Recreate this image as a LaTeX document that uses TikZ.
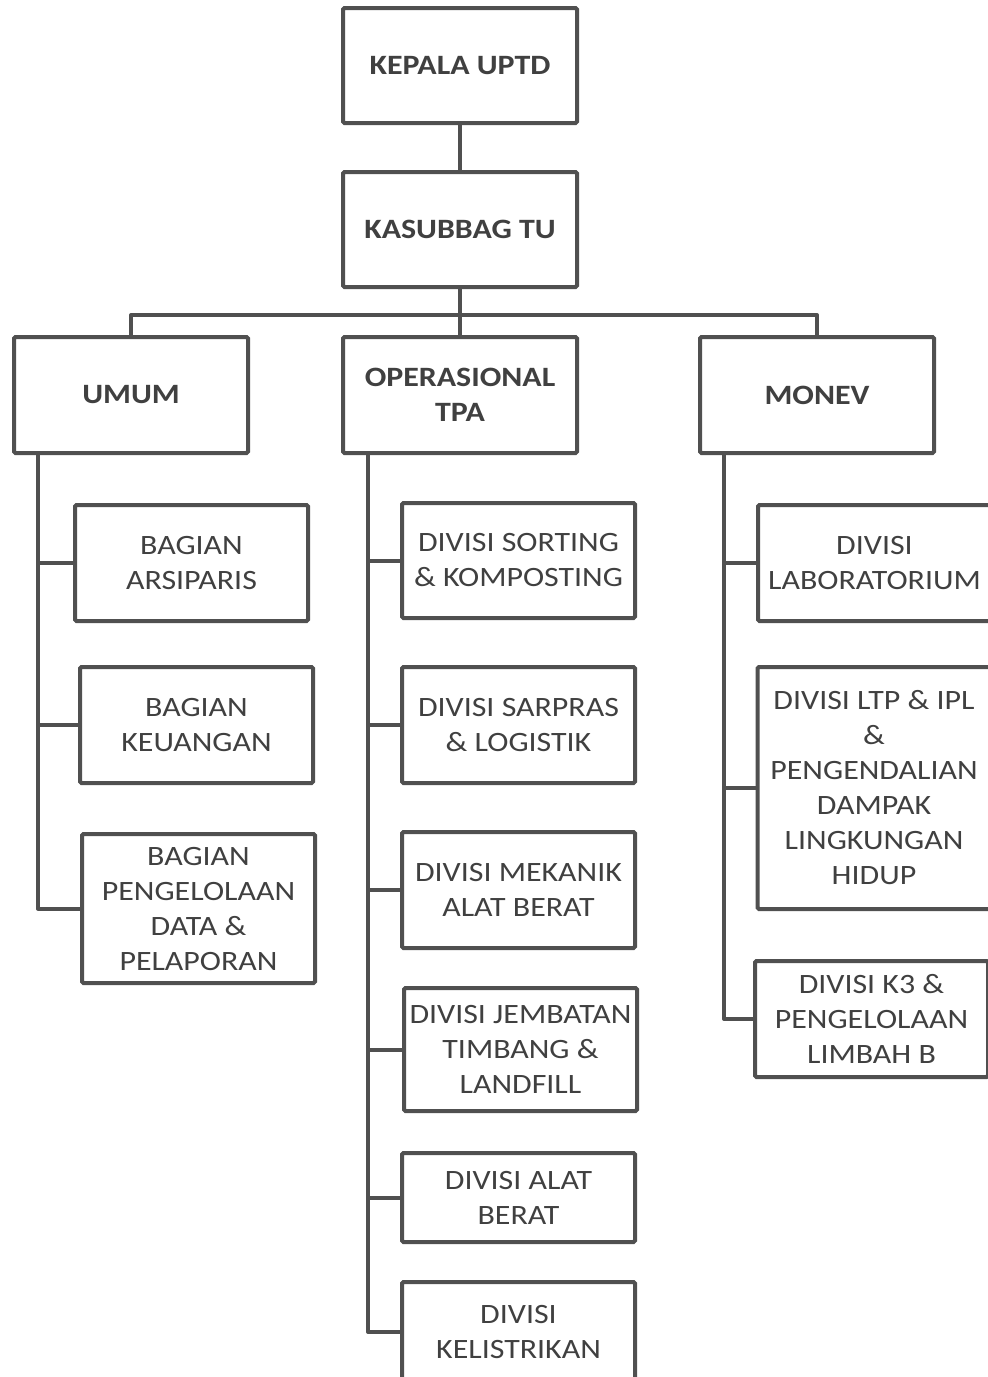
\documentclass[tikz,border=0pt]{standalone}
\usepackage{fontspec}
\setmainfont{Carlito}[FakeStretch=1.14]
\definecolor{linec}{HTML}{505050}
\definecolor{textc}{HTML}{404040}
\begin{document}
\begin{tikzpicture}[x=1pt,y=-1pt,
  box/.style={draw=linec, line width=4pt, rounded corners=1.5pt, fill=white, text=textc,
    align=center, inner sep=0pt, font=\fontsize{28}{35}\selectfont},
  headbox/.style={box, font=\fontsize{28}{35}\selectfont\bfseries},
  conn/.style={draw=linec, line width=4pt, line join=round}]
\useasboundingbox (0,0) rectangle (988,1377);
\clip (0,0) rectangle (988,1377);
% level 1-2
\node[headbox, minimum width=234, minimum height=115] (kepala) at (460,65.5) {KEPALA UPTD};
\node[headbox, minimum width=234, minimum height=115] (kasubbag) at (460,229.5) {KASUBBAG TU};
% level 3
\node[headbox, minimum width=234, minimum height=116] (umum) at (131,395) {UMUM};
\node[headbox, minimum width=234, minimum height=116] (op) at (460,395) {OPERASIONAL\\TPA};
\node[headbox, minimum width=234, minimum height=116] (monev) at (817,395) {MONEV};
% UMUM children
\node[box, minimum width=233, minimum height=116] (arsiparis) at (191.5,563) {BAGIAN\\ARSIPARIS};
\node[box, minimum width=233, minimum height=116] (keuangan) at (196.5,725) {BAGIAN\\KEUANGAN};
\node[box, minimum width=233, minimum height=149] (data) at (198.5,908.5) {BAGIAN\\PENGELOLAAN\\DATA \&\\PELAPORAN};
% OPERASIONAL children
\node[box, minimum width=233, minimum height=115] (sorting) at (518.5,560.5) {DIVISI SORTING\\\& KOMPOSTING};
\node[box, minimum width=233, minimum height=116] (sarpras) at (518.5,725) {DIVISI SARPRAS\\\& LOGISTIK};
\node[box, minimum width=233, minimum height=116] (mekanik) at (518.5,890) {DIVISI MEKANIK\\ALAT BERAT};
\node[box, minimum width=233, minimum height=123] (jembatan) at (520.5,1049.5) {DIVISI JEMBATAN\\TIMBANG \&\\LANDFILL};
\node[box, minimum width=233, minimum height=89] (alatberat) at (518.5,1197.5) {DIVISI ALAT\\BERAT};
\node[box, minimum width=233, minimum height=100] (kelistrikan) at (518.5,1332) {DIVISI\\KELISTRIKAN};
% MONEV children
\node[box, minimum width=233, minimum height=116] (lab) at (874.5,563) {DIVISI\\LABORATORIUM};
\node[box, minimum width=233, minimum height=242] (ltp) at (874,788) {DIVISI LTP \& IPL\\\&\\PENGENDALIAN\\DAMPAK\\LINGKUNGAN\\HIDUP};
\node[box, minimum width=233, minimum height=116] (k3) at (871.5,1019) {DIVISI K3 \&\\PENGELOLAAN\\LIMBAH B};
% connectors
\coordinate (bus) at (460,315);
\coordinate (uspine) at (38,453);
\coordinate (ospine) at (368,453);
\coordinate (mspine) at (724,453);
\path[conn] (kepala.south) -- (kasubbag.north);
\path[conn] (kasubbag.south) -- (op.north);
\path[conn] (umum.north) |- (bus) -| (monev.north);
\path[conn] (uspine) |- (arsiparis.west);
\path[conn] (uspine) |- (keuangan.west);
\path[conn] (uspine) |- (data.west);
\path[conn] (ospine) |- (sorting.west);
\path[conn] (ospine) |- (sarpras.west);
\path[conn] (ospine) |- (mekanik.west);
\path[conn] (ospine) |- (jembatan.west);
\path[conn] (ospine) |- (alatberat.west);
\path[conn] (ospine) |- (kelistrikan.west);
\path[conn] (mspine) |- (lab.west);
\path[conn] (mspine) |- (ltp.west);
\path[conn] (mspine) |- (k3.west);
\end{tikzpicture}
\end{document}
